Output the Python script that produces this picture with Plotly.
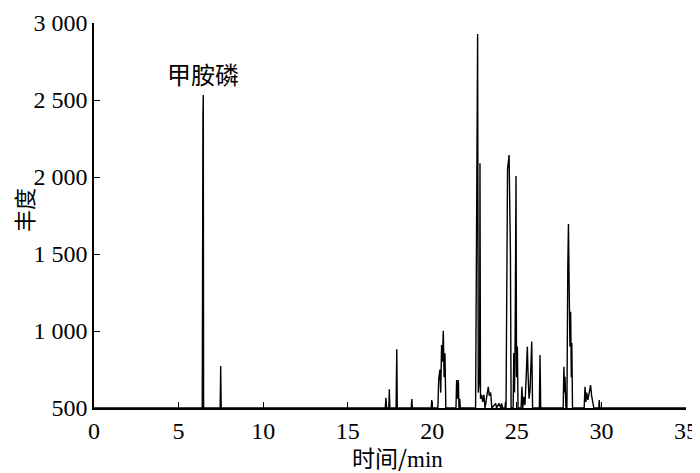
import plotly.graph_objects as go

# Retention time (min) and abundance of the chromatogram trace
time_min = [
    0.00,
    6.40, 6.44, 6.46, 6.48,
    7.46, 7.49, 7.52,
    17.22, 17.26, 17.30,
    17.43, 17.46, 17.49,
    17.86, 17.90, 17.93,
    18.76, 18.79, 18.82,
    19.94, 19.97, 20.00,
    20.33, 20.38, 20.45, 20.50, 20.55, 20.60, 20.65, 20.70, 20.75, 20.80,
    21.40, 21.44, 21.49, 21.54, 21.58, 21.62, 21.66,
    22.56, 22.60, 22.66, 22.68, 22.72, 22.80, 22.82, 22.85, 22.92, 22.98, 23.05, 23.12,
    23.31, 23.37, 23.45, 23.52,
    23.75, 23.80, 23.95, 24.05, 24.10, 24.15,
    24.30, 24.33, 24.36, 24.40, 24.45, 24.54, 24.58, 24.62, 24.66,
    24.78, 24.82, 24.86, 24.90, 24.95, 24.98, 25.03, 25.07,
    25.25, 25.30, 25.35, 25.42, 25.48, 25.55, 25.62, 25.66, 25.72, 25.78, 25.88, 25.93,
    26.33, 26.37, 26.41,
    27.74, 27.78, 27.82, 27.85, 27.90,
    27.96, 28.01, 28.05, 28.09, 28.14, 28.18, 28.22, 28.25, 28.29,
    28.98, 29.03, 29.08, 29.13, 29.20, 29.30, 29.36, 29.42, 29.48, 29.55,
    29.85, 29.87, 29.90,
    35.00,
]
abundance = [
    500,
    500, 2390, 2532, 500,
    500, 773, 500,
    500, 567, 500,
    500, 621, 500,
    500, 881, 500,
    500, 558, 500,
    500, 552, 500,
    500, 686, 750, 600, 909, 800, 1002, 700, 855, 500,
    500, 682, 560, 682, 500, 560, 500,
    500, 1482, 2727, 2928, 600, 700, 2089, 560, 585, 540, 585, 500,
    638, 580, 600, 500,
    530, 500, 530, 500, 530, 500,
    500, 540, 500, 1504, 2050, 2143, 1800, 1500, 500,
    500, 857, 600, 987, 2006, 700, 900, 500,
    500, 638, 500, 573, 520, 700, 898, 727, 560, 617, 931, 500,
    500, 844, 500,
    500, 768, 600, 703, 500,
    500, 1396, 1695, 1300, 900, 1125, 700, 922, 500,
    500, 638, 540, 600, 552, 600, 649, 580, 540, 500,
    500, 552, 500,
    500,
]

x_ticks = [0, 5, 10, 15, 20, 25, 30, 35]
y_ticks = [500, 1000, 1500, 2000, 2500, 3000]
y_tick_labels = ["500", "1 000", "1 500", "2 000", "2 500", "3 000"]

peak_label = "甲胺磷"
peak_time = 6.46
peak_label_y = 2670

x_title = "时间/<span style='font-family:Liberation Serif'>min</span>"
y_title = "丰度"

serif = "Liberation Serif"
cjk = "Noto Sans CJK SC"

fig = go.Figure()
fig.add_trace(go.Scatter(
    x=time_min, y=abundance, mode="lines",
    line=dict(color="black", width=1.4),
    hoverinfo="x+y", showlegend=False,
))

fig.add_annotation(
    x=peak_time, y=peak_label_y, text=peak_label, showarrow=False,
    font=dict(family=cjk, size=24, color="black"),
    xanchor="center", yanchor="middle",
)
fig.add_annotation(
    xref="paper", yref="paper", x=0.512, y=-0.127, text=x_title, showarrow=False,
    font=dict(family=cjk, size=23, color="black"), xanchor="center", yanchor="middle",
)
fig.add_annotation(
    xref="paper", yref="paper", x=-0.12, y=0.514, text=y_title, showarrow=False,
    textangle=-90, font=dict(family=cjk, size=22, color="black"),
    xanchor="center", yanchor="middle", borderpad=0,
)

# page body has an 8px default margin, so the figure is offset by 8px
fig.update_layout(
    width=692, height=465,
    margin=dict(l=86, r=14, t=15, b=65),
    paper_bgcolor="white", plot_bgcolor="white",
    font=dict(family=serif, color="black"),
    xaxis=dict(
        range=[0, 35], tickvals=x_ticks, ticktext=[str(v) for v in x_ticks],
        showgrid=False, zeroline=False, showline=True, linecolor="black", linewidth=1.5,
        ticks="inside", ticklen=6, tickwidth=1.2, tickcolor="black",
        tickfont=dict(family=serif, size=24, color="black"), automargin=False,
    ),
    yaxis=dict(
        range=[500, 3000], tickvals=y_ticks, ticktext=y_tick_labels,
        showgrid=False, zeroline=False, showline=True, linecolor="black", linewidth=1.5,
        ticks="inside", ticklen=6, tickwidth=1.2, tickcolor="black",
        tickfont=dict(family=serif, size=24, color="black"), automargin=False,
    ),
)

fig.write_html("out.html")
